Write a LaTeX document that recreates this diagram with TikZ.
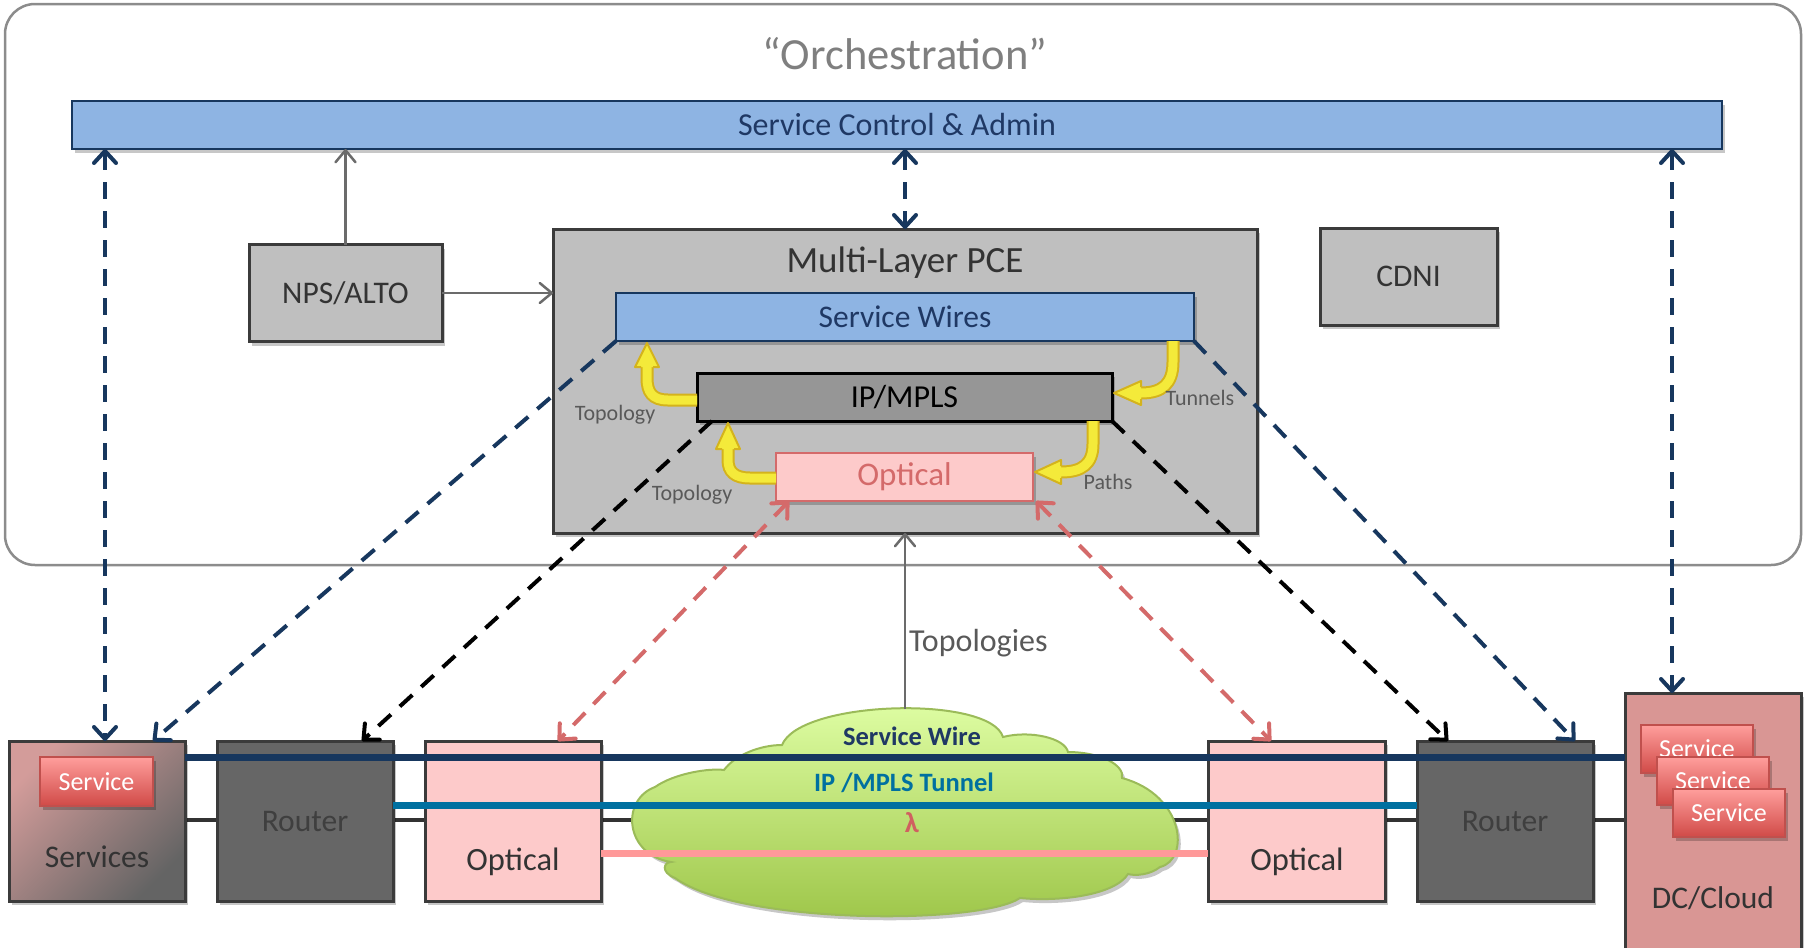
\documentclass[tikz,border=0pt]{standalone}
\usepackage{fontspec}
\setmainfont{Carlito}
\usetikzlibrary{arrows.meta,shadows}
\definecolor{navy}{HTML}{17375E}
\definecolor{navytext}{HTML}{1F3864}
\definecolor{barblue}{HTML}{8EB4E3}
\definecolor{orchline}{HTML}{8C8C8C}
\definecolor{titlegray}{HTML}{7F7F7F}
\definecolor{boxgray}{HTML}{BFBFBF}
\definecolor{boxline}{HTML}{3B3B3B}
\definecolor{darktext}{HTML}{333333}
\definecolor{ipgray}{HTML}{969696}
\definecolor{optfill}{HTML}{FDCACA}
\definecolor{optred}{HTML}{D46A6A}
\definecolor{labelgray}{HTML}{595959}
\definecolor{routergray}{HTML}{666666}
\definecolor{routertext}{HTML}{3F3F3F}
\definecolor{dcfill}{HTML}{D99694}
\definecolor{svctop}{HTML}{FF9E9C}
\definecolor{svcbot}{HTML}{D04A47}
\definecolor{svcline}{HTML}{C0504D}
\definecolor{servtop}{HTML}{D39C9A}
\definecolor{servbot}{HTML}{646464}
\definecolor{cloudtop}{HTML}{E0FFA6}
\definecolor{cloudbot}{HTML}{9DC548}
\definecolor{cloudline}{HTML}{9BBB59}
\definecolor{tealline}{HTML}{0070A0}
\definecolor{pinkline}{HTML}{FF9999}
\definecolor{lambdared}{HTML}{D06060}
\definecolor{garrow}{HTML}{6B6B6B}
\definecolor{yfill}{HTML}{F4EA3A}
\definecolor{yline}{HTML}{D4B31C}
\definecolor{blackline}{HTML}{333333}
\newcommand\myfs[1]{\fontsize{#1}{#1}\selectfont}
\begin{document}
\begin{tikzpicture}[x=1pt,y=-1pt,
  shad/.style={drop shadow={shadow xshift=3pt,shadow yshift=-4pt,opacity=0.22,fill=black}},
  box/.style={rectangle,inner sep=0pt,outer sep=0pt,line width=3pt},
  gline/.style={draw=garrow,line width=2.5pt,-{Straight Barb[length=12pt,width=20pt,round]}},
  tip/.style={>={Straight Barb[length=12pt,width=22pt,round]}},
  dnavy/.style={tip,draw=navy,line width=4pt,dash pattern=on 17pt off 12pt},
  dblack/.style={tip,draw=black,line width=4pt,dash pattern=on 17pt off 12pt},
  dpink/.style={tip,draw=optred,line width=4pt,dash pattern=on 17pt off 12pt},
  yshaft/.style={draw=yline,line width=2pt,double=yfill,double distance=9pt},
  yhead/.style={fill=yfill},
  yedge/.style={draw=yline,line width=2pt,line join=round},
  lbl/.style={text=labelgray,font=\myfs{22},inner sep=0pt},
  svc/.style={box,line width=2pt,draw=svcline,top color=svctop,bottom color=svcbot,text=white,font=\myfs{26},minimum width=112pt,minimum height=48pt,shad}
]
\useasboundingbox (0,0) rectangle (1808,948);

% orchestration frame
\node[box,draw=orchline,line width=2.5pt,rounded corners=30pt,fill=white,minimum width=1796pt,minimum height=561pt] (orch) at (903,284.5) {};
\node[text=titlegray,font=\myfs{44.5},inner sep=0pt] (title) at (905,54) {“Orchestration”};

\node[box,line width=2.5pt,fill=barblue,draw=navy,minimum width=1650pt,minimum height=48pt,text=navytext,font=\myfs{32},shad] (sca) at (897,125) {Service Control \& Admin};

\node[box,fill=boxgray,draw=boxline,minimum width=193pt,minimum height=97pt,text=darktext,font=\myfs{31.5},shad] (nps) at (345.5,293) {NPS/ALTO};
\node[box,fill=boxgray,draw=boxline,minimum width=177pt,minimum height=97pt,text=darktext,font=\myfs{31.5},shad] (cdni) at (1408.5,276.5) {CDNI};

\node[box,fill=boxgray,draw=boxline,minimum width=704pt,minimum height=304pt,shad] (pce) at (905,381) {};
\node[text=darktext,font=\myfs{37},inner sep=0pt] (pcet) at (905,263) {Multi-Layer PCE};

\node[box,line width=2.5pt,fill=barblue,draw=navy,minimum width=578pt,minimum height=48pt,text=navytext,font=\myfs{31.5},shad] (sw) at (905,317) {Service Wires};
\node[box,fill=ipgray,draw=black,minimum width=415pt,minimum height=48pt,text=black,font=\myfs{32},shad] (ipm) at (904.5,397) {IP/MPLS};
\node[box,line width=2.5pt,fill=optfill,draw=optred,minimum width=257pt,minimum height=48pt,text=optred,font=\myfs{33},shad] (opt) at (904.5,477) {Optical};

% yellow arrows
% 1: IP/MPLS -> Service Wires (Topology)
\draw[yshaft] ([yshift=-3pt]ipm.west) -- (668,400) .. controls (652,400) and (647,392) .. (647,378) -- (647,366);
\fill[yhead] (647,343) -- (659,367) -- (635,367) -- cycle;
\draw[yedge] (641,367) -- (635,367) -- (647,343) -- (659,367) -- (653,367);
% 2: Service Wires -> IP/MPLS (Tunnels)
\draw[yshaft] (1173,0 |- sw.south) -- (1173,362) .. controls (1173,384) and (1162,393) .. (1141,393);
\fill[yhead] (1114,393) -- (1141,381) -- (1141,405) -- cycle;
\draw[yedge] (1141,387) -- (1141,381) -- (1114,393) -- (1141,405) -- (1141,399);
% 3: Optical -> IP/MPLS (Topology)
\draw[yshaft] ([yshift=-1pt]opt.west) -- (750,478) .. controls (735,478) and (728,472) .. (728,460) -- (728,449);
\fill[yhead] (728,423) -- (740,449) -- (716,449) -- cycle;
\draw[yedge] (722,449) -- (716,449) -- (728,423) -- (740,449) -- (734,449);
% 4: IP/MPLS -> Optical (Paths)
\draw[yshaft] (1093,0 |- ipm.south) -- (1093,444) .. controls (1093,464) and (1082,472) .. (1061,472);
\fill[yhead] (1035,472) -- (1061,460) -- (1061,484) -- cycle;
\draw[yedge] (1061,466) -- (1061,460) -- (1035,472) -- (1061,484) -- (1061,478);

\node[lbl] (l1) at (615,415) {Topology};
\node[lbl] (l2) at (1200,398) {Tunnels};
\node[lbl] (l3) at (692,495) {Topology};
\node[lbl] (l4) at (1108,482) {Paths};

% bottom black link (behind)
\draw[draw=blackline,line width=4pt] (185,820) -- (1625,820);

% cloud
\path[draw=cloudline,line width=2pt,top color=cloudtop,bottom color=cloudbot,shad]
  (782,745) .. controls (800,700) and (990,695) .. (1003,737)
  .. controls (1030,730) and (1065,738) .. (1068,752)
  .. controls (1100,752) and (1125,765) .. (1122,778)
  .. controls (1185,795) and (1190,860) .. (1160,867)
  .. controls (1150,875) and (1135,876) .. (1128,874)
  .. controls (1115,895) and (1060,902) .. (1020,898)
  .. controls (980,925) and (740,925) .. (675,878)
  .. controls (660,872) and (664,862) .. (671,862)
  .. controls (625,855) and (620,800) .. (655,787)
  .. controls (675,773) and (710,768) .. (724,770)
  .. controls (735,755) and (760,745) .. (782,745) -- cycle;
\coordinate (ctop) at (905,709);

% bottom boxes
\node[box,draw=boxline,top color=servtop,bottom color=servbot,shading angle=45,minimum width=176pt,minimum height=160pt,shad] (services) at (97,821) {};
\node[text=darktext,font=\myfs{31.5},inner sep=0pt] (servicest) at (97,857) {Services};
\node[box,fill=routergray,draw=boxline,minimum width=176pt,minimum height=160pt,text=routertext,font=\myfs{31.5},shad] (r1) at (305,821) {Router};
\node[box,fill=optfill,draw=boxline,minimum width=176pt,minimum height=160pt,shad] (o1) at (513,821) {};
\node[text=darktext,font=\myfs{32.5},inner sep=0pt] (o1t) at (513,862) {Optical};
\node[box,fill=optfill,draw=boxline,minimum width=177pt,minimum height=160pt,shad] (o2) at (1296.5,821) {};
\node[text=darktext,font=\myfs{32.5},inner sep=0pt] (o2t) at (1297,862) {Optical};
\node[box,fill=routergray,draw=boxline,minimum width=176pt,minimum height=160pt,text=routertext,font=\myfs{31.5},shad] (r2) at (1505,821) {Router};
\node[box,fill=dcfill,draw=boxline,minimum width=176pt,minimum height=280pt,shad] (dc) at (1713,833) {};
\node[text=darktext,font=\myfs{31.5},inner sep=0pt] (dct) at (1713,898) {DC/Cloud};

% layer lines
\draw[draw=navy,line width=7pt] (services.east |- 0,757) -- (dc.west |- 0,757);
\draw[draw=tealline,line width=7pt] (r1.east |- 0,805) -- (r2.west |- 0,805);
\draw[draw=pinkline,line width=7pt] (o1.east |- 0,853) -- (o2.west |- 0,853);

\node[text=navytext,font=\bfseries\myfs{26.5},inner sep=0pt] (cl1) at (912,736) {Service Wire};
\node[text=tealline,font=\bfseries\myfs{26.5},inner sep=0pt] (cl2) at (904,783) {IP /MPLS Tunnel};
\node[text=lambdared,font=\bfseries\myfs{29},inner sep=0pt] (cl3) at (912,823) {λ};

% service boxes
\node[svc,minimum width=113pt,minimum height=49pt] (svc0) at (96.5,781.5) {Service};
\node[svc] (svcA) at (1697,749) {Service};
\node[svc] (svcB) at (1713,781) {Service};
\node[svc] (svcC) at (1729,813) {Service};

% solid gray arrows
\draw[gline] (nps.north) -- (nps.north |- sca.south);
\draw[gline] (nps.east) -- (pce.west |- nps.east);
\draw[gline] (ctop) -- (pce.south);
\node[text=labelgray,font=\myfs{32},anchor=west,inner sep=0pt] (topo) at (909,643) {Topologies};

% dashed arrows
\draw[dnavy,<->] (sca.south -| pce.north) -- (pce.north);
\draw[dnavy,<->] (105,0 |- sca.south) -- (105,0 |- services.north);
\draw[dnavy,<->] (1672,0 |- sca.south) -- (1672,0 |- dc.north);
\draw[dnavy,->] (sw.south west) -- (153,0 |- services.north);
\draw[dnavy,->] (sw.south east) -- (1575,0 |- r2.north);
\draw[dblack,->] (712,0 |- ipm.south) -- (362,0 |- r1.north);
\draw[dblack,->] (ipm.south east) -- (1448,0 |- r2.north);
\draw[dpink,<->] (789,0 |- opt.south) -- (558,0 |- o1.north);
\draw[dpink,<->] (1036,0 |- opt.south) -- (1271,0 |- o2.north);
\end{tikzpicture}
\end{document}
